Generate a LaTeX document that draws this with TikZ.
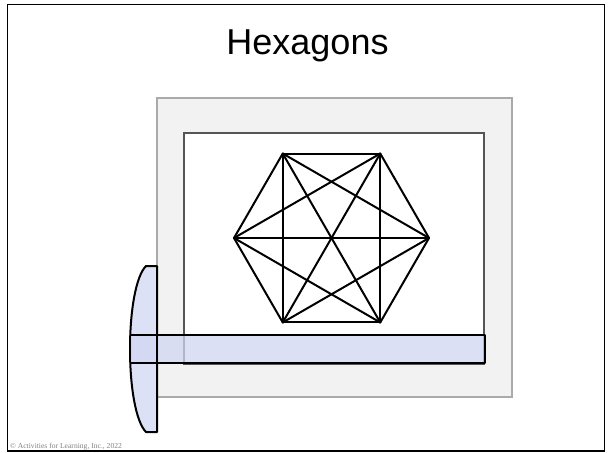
\documentclass[tikz,border=0pt]{standalone}
\usepackage{fontspec}
\usetikzlibrary{calc}
\setmainfont{Liberation Serif}
\newfontfamily\titlefont{Liberation Sans}
\definecolor{boxgray}{RGB}{242,242,242}
\definecolor{boxedge}{RGB}{170,170,170}
\definecolor{inneredge}{RGB}{85,85,85}
\definecolor{lensblue}{RGB}{221,225,245}
\definecolor{barblue}{RGB}{209,214,242}
\definecolor{copygray}{RGB}{130,130,130}
\tikzset{
  frame/.style={draw=black, line width=1.5pt},
  outerbox/.style={draw=boxedge, fill=boxgray, line width=1.5pt},
  innerbox/.style={draw=inneredge, fill=white, line width=1.5pt},
  hexline/.style={draw=black, line width=2pt, line cap=round, line join=round},
  lensshape/.style={draw=black, fill=lensblue, line width=2pt, line join=round},
  barfill/.style={fill=barblue, fill opacity=0.75},
  blackline/.style={draw=black, line width=2pt, line join=round},
}
\begin{document}
\begin{tikzpicture}[x=1pt,y=-1pt]
\useasboundingbox (0,0) rectangle (609,452);
% outer frame
\draw[frame] (7.5,4.5) rectangle (604.5,451);
% title
\node[font=\titlefont\fontsize{36}{40}\selectfont, anchor=base, inner sep=0pt] (title) at (307.5,54.3) {Hexagons};
% boxes
\draw[outerbox] (157,98) rectangle (512,397);
\draw[innerbox] (184,133) rectangle (484,364);
% hexagon
\coordinate (c) at (331.5,238);
\foreach \i/\a in {1/0,2/60,3/120,4/180,5/240,6/300}{
  \coordinate (v\i) at ($(c)+(\a:97.5)$);
}
\foreach \i in {1,...,6}{
  \foreach \j in {1,...,6}{
    \ifnum\i<\j
      \draw[hexline] (v\i) -- (v\j);
    \fi
  }
}
% lens (head of the square)
\draw[lensshape] (157,266) -- (146,266) .. controls (136,276) and (130,310) .. (130,349)
  .. controls (130,388) and (136,422) .. (146,432) -- (157,432) -- cycle;
% bar
\fill[barfill] (130.5,335) rectangle (485,362.5);
\draw[blackline] (130.5,335) -- (485,335) -- (485,362.5) -- (130.5,362.5);
\draw[blackline] (157,266) -- (157,432);
% copyright
\node[font=\fontsize{7.6}{8}\selectfont, text=copygray, anchor=base west, inner sep=0pt] (copy) at (10,448.5) {© Activities for Learning, Inc., 2022};
\end{tikzpicture}
\end{document}
